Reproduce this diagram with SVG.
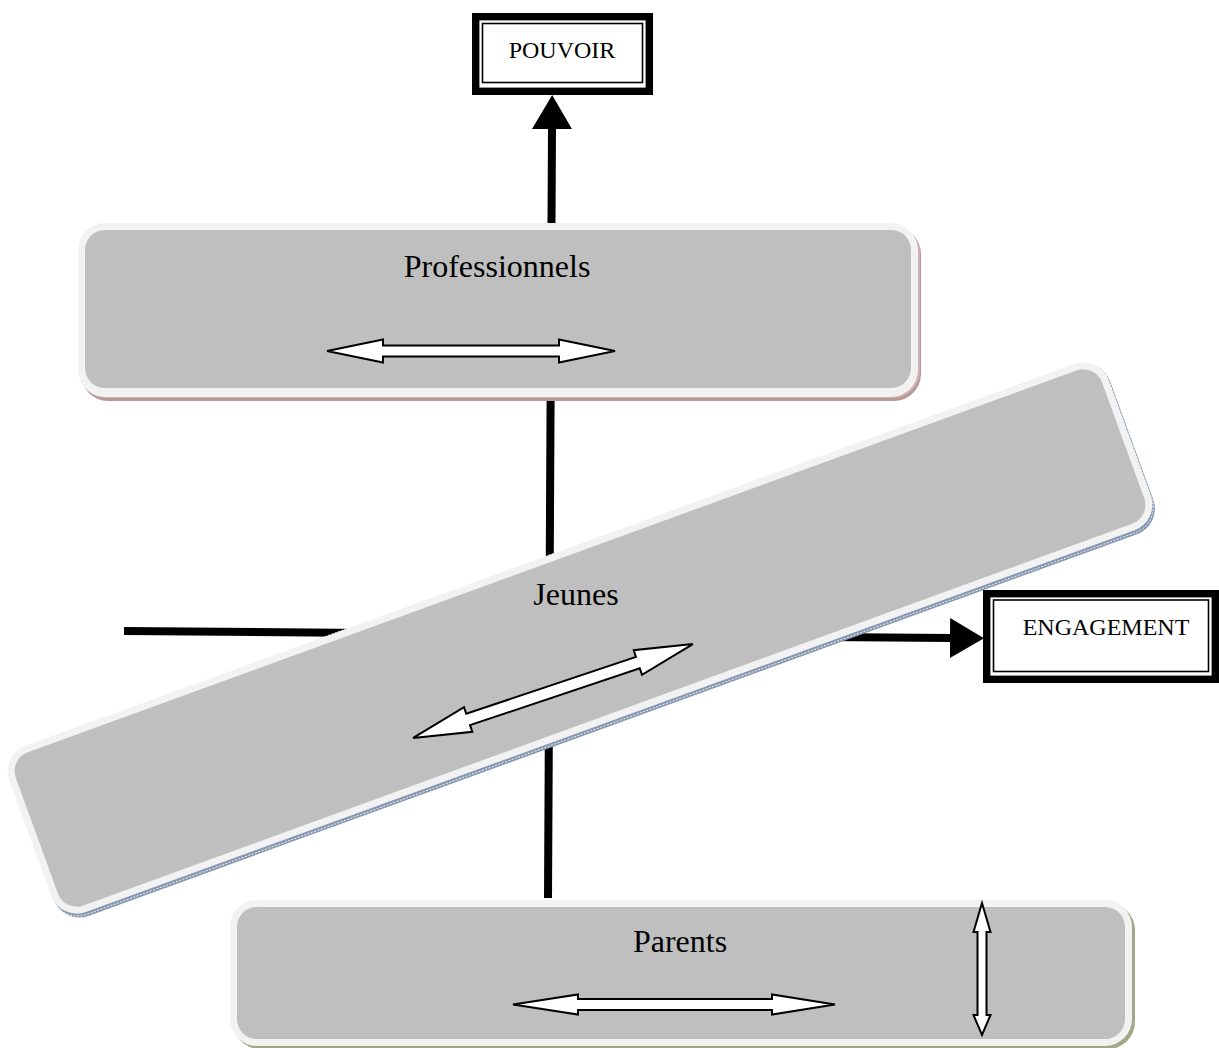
<svg xmlns="http://www.w3.org/2000/svg" width="1219" height="1048" viewBox="0 0 1219 1048">
  <style>
    .rim { fill: #f2f2f2; }
    .face { fill: #bfbfbf; }
    .label { font-family: "Liberation Serif", "Times New Roman", serif; fill: #000; text-anchor: middle; }
    .big { font-size: 32px; }
    .small { font-size: 24px; }
    .dbl { fill: #fff; stroke: #000; stroke-width: 2; stroke-linejoin: miter; }
    .link { stroke: #000; stroke-width: 8; fill: none; }
    .frame { fill: #fff; stroke: #000; stroke-width: 7.4; }
    .frameInner { fill: none; stroke: #000; stroke-width: 1.6; }
  </style>
  <defs>
    <marker id="solidArrow" markerUnits="userSpaceOnUse" viewBox="0 0 34 40" markerWidth="34" markerHeight="40" refX="0" refY="20" orient="auto">
      <path d="M0,0 L34,20 L0,40 Z" fill="#000"/>
    </marker>
  </defs>

  <!-- connectors (drawn beneath the panels) -->
  <g id="connectors">
    <line class="link" x1="548" y1="898" x2="552" y2="129" marker-end="url(#solidArrow)"/>
    <line class="link" x1="124" y1="631" x2="950" y2="638" marker-end="url(#solidArrow)"/>
  </g>

  <!-- POUVOIR -->
  <g id="pouvoir">
    <rect class="frame" x="475.7" y="16.7" width="173.6" height="74.6"/>
    <rect class="frameInner" x="482.5" y="23.5" width="160" height="59"/>
    <text class="label small" x="562" y="58">POUVOIR</text>
  </g>

  <!-- ENGAGEMENT -->
  <g id="engagement">
    <rect class="frame" x="986.7" y="593.7" width="228.6" height="85.6"/>
    <rect class="frameInner" x="993.5" y="600" width="215" height="71.5"/>
    <text class="label small" x="1106" y="635">ENGAGEMENT</text>
  </g>

  <!-- Professionnels -->
  <g id="professionnels">
    <rect x="81" y="227" width="840" height="174" rx="27" fill="#b99898"/>
    <rect x="80" y="226" width="840" height="172" rx="27" fill="#cfb3b3"/>
    <rect class="rim" x="78" y="223" width="840" height="174" rx="27"/>
    <rect class="face" x="85" y="230" width="826" height="158" rx="20"/>
    <text class="label big" x="497" y="277">Professionnels</text>
    <polygon class="dbl" points="327,351 383,339.5 383,345.5 559,345.5 559,339.5 615,351 559,362.5 559,356.5 383,356.5 383,362.5"/>
  </g>

  <!-- Jeunes (tilted panel) -->
  <g id="jeunes">
    <g transform="translate(580 638) rotate(-20)">
      <rect x="-584" y="-87" width="1170" height="180" rx="27" fill="#8797b1"/>
      <rect x="-585" y="-88.5" width="1170" height="179.5" rx="27" fill="none" stroke="#fff" stroke-width="0.8" stroke-dasharray="2 1.5"/>
      <rect class="rim" x="-585" y="-88.5" width="1170" height="177" rx="27"/>
      <rect class="face" x="-578" y="-81.5" width="1156" height="163" rx="20"/>
    </g>
    <text class="label big" x="576" y="605">Jeunes</text>
    <polygon class="dbl" transform="translate(553 691) rotate(-18.56)" points="-147.5,0 -89.5,-13 -89.5,-6 89.5,-6 89.5,-13 147.5,0 89.5,13 89.5,6 -89.5,6 -89.5,13"/>
  </g>

  <!-- Parents -->
  <g id="parents">
    <rect x="233" y="903" width="902" height="146" rx="27" fill="#a2a883"/>
    <rect class="rim" x="230" y="900" width="902" height="146" rx="27"/>
    <rect class="face" x="237" y="907" width="888" height="132" rx="20"/>
    <text class="label big" x="680" y="952">Parents</text>
    <polygon class="dbl" points="513,1004.5 578,994.5 578,999 772,999 772,994.5 835,1004.5 772,1014.5 772,1010 578,1010 578,1014.5"/>
    <polygon class="dbl" points="982,903 990.5,932 986.5,932 986.5,1015 990.5,1015 982,1035 973.5,1015 977.5,1015 977.5,932 973.5,932"/>
  </g>
</svg>
